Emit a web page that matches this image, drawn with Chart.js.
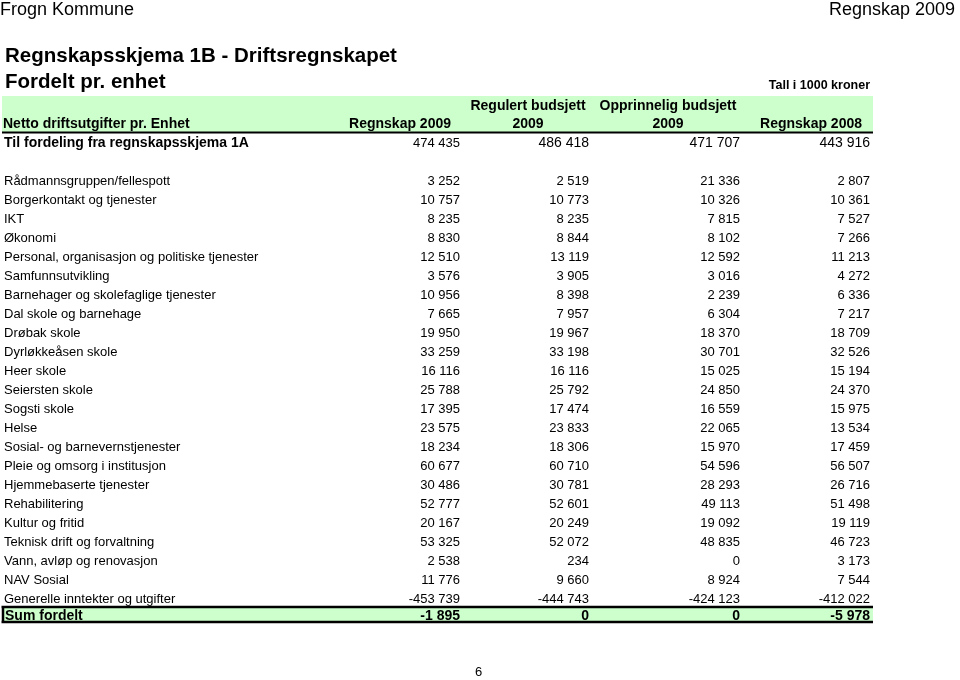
<!DOCTYPE html>
<html>
<head>
<meta charset="utf-8">
<script src="https://cdn.jsdelivr.net/npm/chart.js@4/dist/chart.umd.min.js"></script>
<style>
  html, body { margin: 0; padding: 0; background: #fff; }
  body { width: 960px; height: 680px; position: relative; overflow: hidden; font-family: "Liberation Sans", Arial, sans-serif; color: #000; }
  #c { position: absolute; left: 0; top: 0; }
  .t { position: absolute; white-space: nowrap; line-height: 1; }
</style>
</head>
<body>
<canvas id="c" width="960" height="680"></canvas>
<div class="t" style="left:0px; top:-0.2px; font-size:18px;">Frogn Kommune</div>
<div class="t" style="right:5px; top:-0.2px; font-size:18px;">Regnskap 2009</div>
<div class="t" style="left:5px; top:45.3px; font-size:20.5px; font-weight:bold;">Regnskapsskjema 1B - Driftsregnskapet</div>
<div class="t" style="left:5px; top:71.3px; font-size:20.5px; font-weight:bold;">Fordelt pr. enhet</div>
<div class="t" style="right:90px; top:79.4px; font-size:12.5px; font-weight:bold;">Tall i 1000 kroner</div>
<div class="t" style="left:475px; top:665px; font-size:13px;">6</div>
<script>
// ---------- DATA ----------
const headerTitle = 'Netto driftsutgifter pr. Enhet';
const columnHeaders = [['Regnskap 2009'], ['Regulert budsjett', '2009'], ['Opprinnelig budsjett', '2009'], ['Regnskap 2008']];
const tilFordelingLabel = 'Til fordeling fra regnskapsskjema 1A';
const tilFordeling = [474435, 486418, 471707, 443916];
const rows = [
  'Rådmannsgruppen/fellespott', 'Borgerkontakt og tjenester', 'IKT', 'Økonomi',
  'Personal, organisasjon og politiske tjenester', 'Samfunnsutvikling',
  'Barnehager og skolefaglige tjenester', 'Dal skole og barnehage', 'Drøbak skole',
  'Dyrløkkeåsen skole', 'Heer skole', 'Seiersten skole', 'Sogsti skole', 'Helse',
  'Sosial- og barnevernstjenester', 'Pleie og omsorg i institusjon', 'Hjemmebaserte tjenester',
  'Rehabilitering', 'Kultur og fritid', 'Teknisk drift og forvaltning',
  'Vann, avløp og renovasjon', 'NAV Sosial', 'Generelle inntekter og utgifter'
];
const regnskap2009 = [3252, 10757, 8235, 8830, 12510, 3576, 10956, 7665, 19950, 33259, 16116, 25788, 17395, 23575, 18234, 60677, 30486, 52777, 20167, 53325, 2538, 11776, -453739];
const regulert2009 = [2519, 10773, 8235, 8844, 13119, 3905, 8398, 7957, 19967, 33198, 16116, 25792, 17474, 23833, 18306, 60710, 30781, 52601, 20249, 52072, 234, 9660, -444743];
const opprinnelig2009 = [21336, 10326, 7815, 8102, 12592, 3016, 2239, 6304, 18370, 30701, 15025, 24850, 16559, 22065, 15970, 54596, 28293, 49113, 19092, 48835, 0, 8924, -424123];
const regnskap2008 = [2807, 10361, 7527, 7266, 11213, 4272, 6336, 7217, 18709, 32526, 15194, 24370, 15975, 13534, 17459, 56507, 26716, 51498, 19119, 46723, 3173, 7544, -412022];
const sumLabel = 'Sum fordelt';
const sumFordelt = [-1895, 0, 0, -5978];

// ---------- LAYOUT (positions in x-scale units, styles) ----------
const FONT = '"Liberation Sans", Arial, sans-serif';
const GREEN = '#ccffcc';
const tableLeft = 2, tableRight = 873, labelX = 4;
const colRight = [460, 589, 740, 870];
const headerAnchor = [{x: 451, align: 'right'}, {x: 528, align: 'center'}, {x: 668, align: 'center'}, {x: 862, align: 'right'}];

const columns = [regnskap2009, regulert2009, opprinnelig2009, regnskap2008];
const blankRow = ' ';
const allRows = [tilFordelingLabel, blankRow, ...rows, sumLabel];

function fmt(n) {
  const s = Math.abs(n).toString().replace(/\B(?=(\d{3})+(?!\d))/g, ' ');
  return (n < 0 ? '-' : '') + s;
}

const datasets = columns.map((col, c) => ({
  label: columnHeaders[c].join(' '),
  data: [
    {x: colRight[c], y: tilFordelingLabel, v: tilFordeling[c], kind: 'top'},
    ...rows.map((r, i) => ({x: colRight[c], y: r, v: col[i], kind: 'row'})),
    {x: colRight[c], y: sumLabel, v: sumFordelt[c], kind: 'sum'}
  ],
  pointRadius: 0,
  pointHoverRadius: 0,
  showLine: false
}));

const SUM_SHIFT = -2.5;

const tablePlugin = {
  id: 'tablePlugin',
  beforeDatasetsDraw(chart) {
    const {ctx, chartArea} = chart;
    const xs = chart.scales.x, ys = chart.scales.y;
    const L = xs.getPixelForValue(tableLeft), R = xs.getPixelForValue(tableRight);
    const top = chartArea.top;
    ctx.save();
    // header band
    ctx.fillStyle = GREEN;
    ctx.fillRect(L, top - 36.5, R - L, 36.5);
    ctx.strokeStyle = '#000';
    ctx.lineWidth = 2;
    ctx.beginPath(); ctx.moveTo(L, top); ctx.lineTo(R, top); ctx.stroke();
    // header texts
    ctx.fillStyle = '#000';
    ctx.font = 'bold 14px ' + FONT;
    ctx.textBaseline = 'alphabetic';
    ctx.textAlign = 'left';
    ctx.fillText(headerTitle, xs.getPixelForValue(labelX) - 1, top - 4.5);
    columnHeaders.forEach((lines, c) => {
      ctx.textAlign = headerAnchor[c].align;
      const hx = xs.getPixelForValue(headerAnchor[c].x);
      lines.forEach((t, k) => {
        const by = top - 4.5 - (lines.length - 1 - k) * 18;
        ctx.fillText(t, hx, by);
      });
    });
    // sum row box
    const sp = ys.getPixelForValue(allRows.indexOf(sumLabel)) ;
    const bTop = sp - 10, bBot = sp + 5;
    ctx.fillStyle = GREEN;
    ctx.fillRect(L, bTop, R - L, bBot - bTop);
    ctx.lineWidth = 2.5;
    ctx.beginPath();
    ctx.moveTo(L - 0.5, bTop); ctx.lineTo(R, bTop);
    ctx.moveTo(L - 0.5, bBot); ctx.lineTo(R, bBot);
    ctx.moveTo(L + 1, bTop); ctx.lineTo(L + 1, bBot);
    ctx.stroke();
    ctx.restore();
  },
  afterDatasetsDraw(chart) {
    const {ctx} = chart;
    const xs = chart.scales.x, ys = chart.scales.y;
    ctx.save();
    ctx.fillStyle = '#000';
    ctx.textBaseline = 'alphabetic';
    // row labels
    allRows.forEach((lab, i) => {
      if (lab === blankRow) return;
      let py = ys.getPixelForValue(i);
      let fs = 13, w = '';
      if (lab === tilFordelingLabel) { fs = 14; w = 'bold '; }
      if (lab === sumLabel) { fs = 14; w = 'bold '; py += SUM_SHIFT; }
      ctx.font = w + fs + 'px ' + FONT;
      ctx.textAlign = 'left';
      ctx.fillText(lab, xs.getPixelForValue(labelX) + (lab === sumLabel ? 1 : 0), py + 0.358 * fs);
    });
    // cell values
    chart.data.datasets.forEach((ds, c) => {
      const meta = chart.getDatasetMeta(c);
      meta.data.forEach((el, i) => {
        const d = ds.data[i];
        let fs = 13, w = '', py = el.y;
        if (d.kind === 'top') { fs = c === 0 ? 13 : 14; }
        if (d.kind === 'sum') { fs = 14; w = 'bold '; py += SUM_SHIFT; }
        ctx.font = w + fs + 'px ' + FONT;
        ctx.textAlign = 'right';
        ctx.fillText(fmt(d.v), el.x, py + 0.358 * fs);
      });
    });
    ctx.restore();
  }
};

new Chart(document.getElementById('c'), {
  type: 'scatter',
  data: { datasets },
  options: {
    responsive: false,
    animation: false,
    events: [],
    devicePixelRatio: 1,
    layout: { padding: { top: 132.5, bottom: 53.5, left: 0, right: 0 } },
    plugins: { legend: { display: false }, tooltip: { enabled: false }, title: { display: false } },
    scales: {
      x: { type: 'linear', min: 0, max: 960, display: false },
      y: { type: 'category', labels: allRows, offset: true, display: false }
    }
  },
  plugins: [tablePlugin]
});
</script>
</body>
</html>
